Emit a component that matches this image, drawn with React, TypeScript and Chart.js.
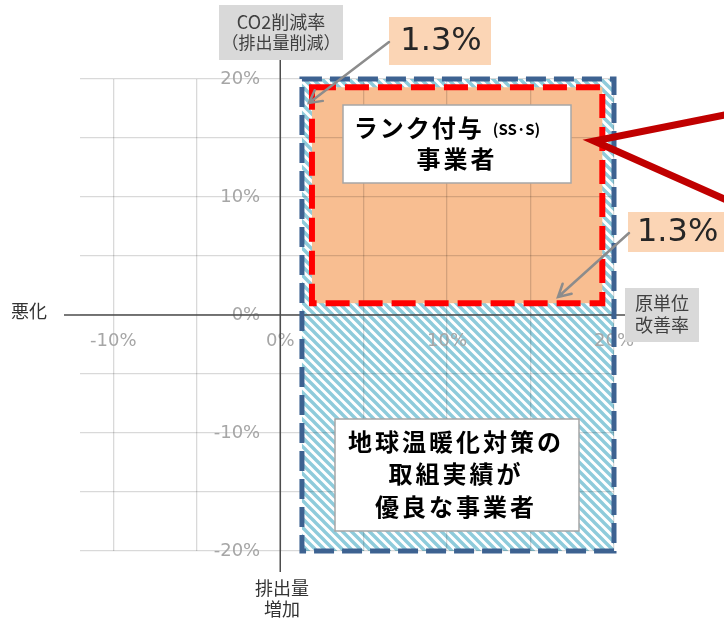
import React, { useEffect, useRef } from 'react';
import { Chart, registerables } from 'chart.js';

Chart.register(...registerables);

// ---- data ----
const xRange = [-12, 20];
const yRange = [-20, 20];
const xTickValues = [-10, -5, 0, 5, 10, 15, 20];
const xLabeledTicks = [-10, 0, 10, 20];
const yTickValues = [-20, -15, -10, -5, 0, 5, 10, 15, 20];
const yLabeledTicks = [-20, -10, 0, 10, 20];
const yLabelAnchorX = -1.2;
const blueZoneX = [1.3, 20];
const blueZoneY = [-20, 20];
const redZoneX = [1.9, 19.3];
const redZoneY = [1.0, 19.3];
const thresholdLabel = '1.3%';
const rankMain = 'ランク付与';
const rankSub = '(SS·S)';
const rankLine2 = '事業者';
const excellentLines = ['地球温暖化対策の', '取組実績が', '優良な事業者'];
const yAxisTitle = ['CO2削減率', '（排出量削減）'];
const xAxisTitle = ['原単位', '改善率'];
const negXLabel = '悪化';
const negYLabel = ['排出量', '増加'];

const JP = '"Noto Sans CJK JP", "Noto Sans", sans-serif';

function makeHatch(ctx: CanvasRenderingContext2D) {
  const s = 9;
  const c = document.createElement('canvas');
  c.width = s;
  c.height = s;
  const g = c.getContext('2d')!;
  g.fillStyle = '#ffffff';
  g.fillRect(0, 0, s, s);
  g.strokeStyle = '#8ecbdb';
  g.lineWidth = 3.4;
  g.beginPath();
  g.moveTo(-2, -2); g.lineTo(s + 2, s + 2);
  g.moveTo(-2, s - 2); g.lineTo(2, s + 2);
  g.moveTo(s - 2, -2); g.lineTo(s + 2, 2);
  g.stroke();
  return ctx.createPattern(c, 'repeat')!;
}

function arrow(ctx: CanvasRenderingContext2D, x0: number, y0: number, x1: number, y1: number) {
  ctx.save();
  ctx.strokeStyle = '#8c8c8c';
  ctx.lineWidth = 2.5;
  ctx.lineCap = 'round';
  ctx.beginPath();
  ctx.moveTo(x0, y0);
  ctx.lineTo(x1, y1);
  const a = Math.atan2(y1 - y0, x1 - x0);
  const L = 14;
  ctx.moveTo(x1 - L * Math.cos(a - 0.5), y1 - L * Math.sin(a - 0.5));
  ctx.lineTo(x1, y1);
  ctx.lineTo(x1 - L * Math.cos(a + 0.5), y1 - L * Math.sin(a + 0.5));
  ctx.stroke();
  ctx.restore();
}

const zonePlugin = {
  id: 'zones',
  beforeDraw(chart: any) {
    const { ctx, scales } = chart;
    const X = (v: number) => scales.x.getPixelForValue(v);
    const Y = (v: number) => scales.y.getPixelForValue(v);
    ctx.save();
    ctx.fillStyle = makeHatch(ctx);
    const bx = X(blueZoneX[0]), bx2 = X(blueZoneX[1]);
    const by = Y(blueZoneY[1]), by2 = Y(blueZoneY[0]);
    ctx.fillRect(bx, by, bx2 - bx, by2 - by);
    ctx.fillStyle = '#f8be91';
    const rx = X(redZoneX[0]), rx2 = X(redZoneX[1]);
    const ry = Y(redZoneY[1]), ry2 = Y(redZoneY[0]);
    ctx.fillRect(rx, ry, rx2 - rx, ry2 - ry);
    ctx.restore();
  },
  afterDatasetsDraw(chart: any) {
    const { ctx, scales, chartArea } = chart;
    const X = (v: number) => scales.x.getPixelForValue(v);
    const Y = (v: number) => scales.y.getPixelForValue(v);
    ctx.save();
    // axis lines
    ctx.strokeStyle = '#4d4d4d';
    ctx.lineWidth = 1.5;
    ctx.beginPath();
    ctx.moveTo(chartArea.left - 16, Y(0));
    ctx.lineTo(chartArea.right + 11, Y(0));
    ctx.moveTo(X(0), chartArea.top - 19);
    ctx.lineTo(X(0), chartArea.bottom + 21);
    ctx.stroke();
    // blue dashed border
    const bx = X(blueZoneX[0]), bx2 = X(blueZoneX[1]);
    const by = Y(blueZoneY[1]), by2 = Y(blueZoneY[0]);
    ctx.strokeStyle = '#3d6291';
    ctx.lineWidth = 5;
    ctx.setLineDash([20, 8]);
    ctx.strokeRect(bx, by, bx2 - bx, by2 - by);
    // red dashed border
    const rx = X(redZoneX[0]), rx2 = X(redZoneX[1]);
    const ry = Y(redZoneY[1]), ry2 = Y(redZoneY[0]);
    ctx.strokeStyle = '#ff0000';
    ctx.lineWidth = 6;
    ctx.setLineDash([24, 9]);
    ctx.strokeRect(rx, ry, rx2 - rx, ry2 - ry);
    ctx.restore();
  },
  afterDraw(chart: any) {
    const { ctx } = chart;
    ctx.save();
    ctx.textBaseline = 'middle';

    // rank box
    ctx.fillStyle = '#ffffff';
    ctx.fillRect(343, 105, 228, 78);
    ctx.strokeStyle = '#a6a6a6';
    ctx.lineWidth = 1.5;
    ctx.strokeRect(343, 105, 228, 78);
    ctx.fillStyle = '#000000';
    (ctx as any).letterSpacing = '2px';
    ctx.font = `bold 24px ${JP}`;
    const w1 = ctx.measureText(rankMain).width;
    (ctx as any).letterSpacing = '0px';
    ctx.font = `bold 15px ${JP}`;
    const w2 = ctx.measureText(rankSub).width;
    const gap = 9;
    const sx = 447 - (w1 + gap + w2) / 2;
    ctx.textAlign = 'left';
    (ctx as any).letterSpacing = '2px';
    ctx.font = `bold 24px ${JP}`;
    ctx.fillText(rankMain, sx, 128);
    (ctx as any).letterSpacing = '0px';
    ctx.font = `bold 15px ${JP}`;
    ctx.fillText(rankSub, sx + w1 + gap, 129);
    ctx.textAlign = 'center';
    (ctx as any).letterSpacing = '3px';
    ctx.font = `bold 24px ${JP}`;
    ctx.fillText(rankLine2, 457, 159);

    // excellent box
    (ctx as any).letterSpacing = '0px';
    ctx.fillStyle = '#ffffff';
    ctx.fillRect(335, 419, 244, 112);
    ctx.strokeStyle = '#a6a6a6';
    ctx.strokeRect(335, 419, 244, 112);
    ctx.fillStyle = '#000000';
    (ctx as any).letterSpacing = '3px';
    ctx.font = `bold 24px ${JP}`;
    const ly = [442, 474, 507];
    excellentLines.forEach((t, i) => ctx.fillText(t, 456, ly[i]));
    (ctx as any).letterSpacing = '0px';

    // callouts 1.3%
    ctx.fillStyle = '#fbd5b5';
    ctx.fillRect(389, 17, 102, 48);
    ctx.fillRect(628, 212, 110, 40);
    ctx.fillStyle = '#262626';
    ctx.font = `32px "DejaVu Sans", sans-serif`;
    ctx.textAlign = 'center';
    ctx.fillText(thresholdLabel, 441, 42);
    ctx.textAlign = 'left';
    ctx.fillText(thresholdLabel, 637, 233);
    arrow(ctx, 389, 42, 309, 103);
    arrow(ctx, 629, 233, 558, 297);

    // axis title boxes
    ctx.fillStyle = '#d9d9d9';
    ctx.fillRect(219, 5, 124, 55);
    ctx.fillRect(625, 288, 74, 54);
    ctx.fillStyle = '#404040';
    ctx.textAlign = 'center';
    ctx.font = `18px ${JP}`;
    ctx.fillText(yAxisTitle[0], 281, 22);
    ctx.font = `17px ${JP}`;
    ctx.fillText(yAxisTitle[1], 281, 43);
    ctx.font = `18px ${JP}`;
    ctx.fillText(xAxisTitle[0], 662, 303);
    ctx.fillText(xAxisTitle[1], 662, 325);
    ctx.fillStyle = '#333333';
    ctx.fillText(negYLabel[0], 282, 588);
    ctx.fillText(negYLabel[1], 282, 609);
    ctx.textAlign = 'left';
    ctx.fillText(negXLabel, 11, 311);

    // red pointer lines
    ctx.strokeStyle = '#c00000';
    ctx.lineWidth = 7;
    ctx.lineJoin = 'miter';
    ctx.miterLimit = 20;
    ctx.beginPath();
    ctx.moveTo(740, 112);
    ctx.lineTo(594, 141);
    ctx.lineTo(740, 206);
    ctx.stroke();
    ctx.restore();
  },
};

export default function App() {
  const ref = useRef<HTMLCanvasElement>(null);
  useEffect(() => {
    const canvas = ref.current!;
    const tickFont = { family: '"DejaVu Sans", sans-serif', size: 18 };
    const gridColor = 'rgba(0,0,0,0.15)';
    const chart = new Chart(canvas, {
      type: 'scatter',
      data: { datasets: [] },
      plugins: [zonePlugin],
      options: {
        animation: false,
        responsive: false,
        devicePixelRatio: 1,
        layout: { padding: { left: 80, right: 110, top: 79, bottom: 68 } },
        plugins: { legend: { display: false }, tooltip: { enabled: false } },
        scales: {
          x: {
            type: 'linear',
            min: xRange[0],
            max: xRange[1],
            position: { y: 0 } as any,
            afterBuildTicks: (scale: any) => {
              scale.ticks = xTickValues.map((v) => ({ value: v }));
            },
            ticks: {
              autoSkip: false,
              maxRotation: 0,
              padding: 16,
              color: '#a6a6a6',
              font: tickFont,
              callback: (v: any) => (xLabeledTicks.includes(Number(v)) ? `${v}%` : ''),
            },
            grid: { color: gridColor, lineWidth: 1.3, drawTicks: false },
            border: { display: false },
          },
          y: {
            type: 'linear',
            min: yRange[0],
            max: yRange[1],
            position: { x: yLabelAnchorX } as any,
            afterBuildTicks: (scale: any) => {
              scale.ticks = yTickValues.map((v) => ({ value: v }));
            },
            ticks: {
              autoSkip: false,
              padding: 0,
              color: '#a6a6a6',
              font: tickFont,
              callback: (v: any) => (yLabeledTicks.includes(Number(v)) ? `${v}%` : ''),
            },
            grid: { color: gridColor, lineWidth: 1.3, drawTicks: false },
            border: { display: false },
          },
        },
      },
    });
    return () => chart.destroy();
  }, []);
  return (
    <div style={{ position: 'fixed', left: 0, top: 0, width: 724, height: 619, background: '#ffffff' }}>
      <canvas ref={ref} width={724} height={619} style={{ display: 'block', width: 724, height: 619 }} />
    </div>
  );
}
